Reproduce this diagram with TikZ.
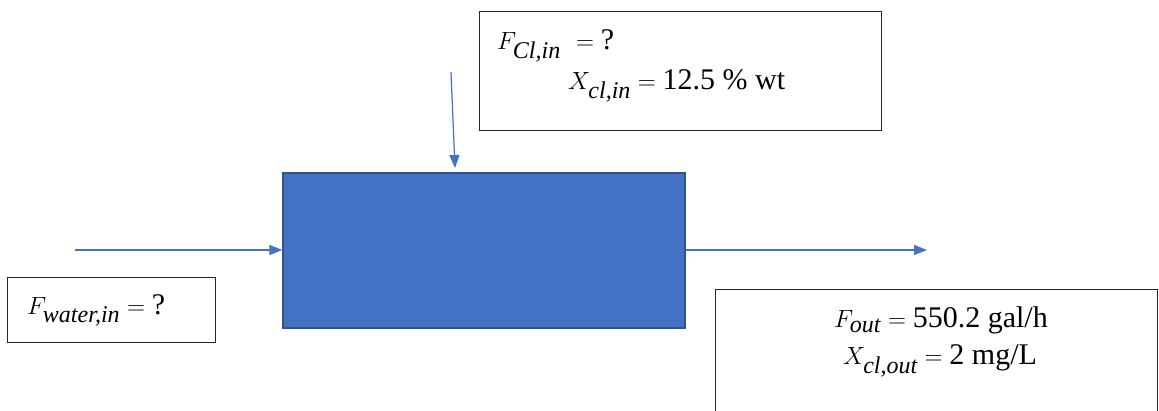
\documentclass[tikz,border=0pt]{standalone}
\usepackage{fontspec}
\setmainfont{Liberation Serif}
\newcommand\mysub[1]{_{\hbox{\fontsize{24}{24}\selectfont\itshape #1}}}
\usetikzlibrary{arrows.meta}
\definecolor{flow}{HTML}{4472C4}
\definecolor{flowdark}{HTML}{2F528F}
\tikzset{
  reactor/.style={draw=flowdark, line width=1.3pt, fill=flow, minimum width=402pt, minimum height=155pt, inner sep=0pt},
  infobox/.style={draw=black!85, line width=1pt, fill=white, inner sep=0pt},
  stream/.style={draw=flow, line width=1.2pt, -{Triangle[length=13pt,width=10pt]}},
  lbl/.style={inner sep=0pt, font=\fontsize{30}{35}\selectfont}
}
\begin{document}
\begin{tikzpicture}[x=1pt,y=-1pt]
\clip (0,0) rectangle (1159,411);
\fill[white] (0,0) rectangle (1159,411);
% boxes
\node[infobox, minimum width=402pt, minimum height=119pt] (topbox) at (680,71.5) {};
\node[infobox, minimum width=208pt, minimum height=65pt] (leftbox) at (111,310.5) {};
\node[infobox, minimum width=442pt, minimum height=140pt] (rightbox) at (936,360) {};
\node[reactor] (mixer) at (484,250.5) {};
% labels
\node[lbl, anchor=base west] (fcl) at (497,50) {$F\mysub{Cl,in}\,\,={}$?};
\node[lbl, anchor=base west] (xcl) at (568,90) {$X\mysub{cl,in}={}$12.5 \% wt};
\node[lbl, anchor=base west] (fw) at (27,315) {$F\mysub{water,in}={}$?};
\node[lbl, anchor=base] (fout) at (941,328) {$F\mysub{out}={}$550.2 gal/h};
\node[lbl, anchor=base] (xout) at (940,365) {$X\mysub{cl,out}={}$2 mg/L};
% streams
\coordinate (inL) at (75,250);
\coordinate (inTs) at (451,72);
\coordinate (inTe) at (455,168);
\coordinate (outR) at (927,250);
\draw[stream] (inL) -- (inL -| mixer.west);
\draw[stream] (inTs) -- (inTe);
\draw[stream] (mixer.east |- outR) -- (outR);
\end{tikzpicture}
\end{document}
